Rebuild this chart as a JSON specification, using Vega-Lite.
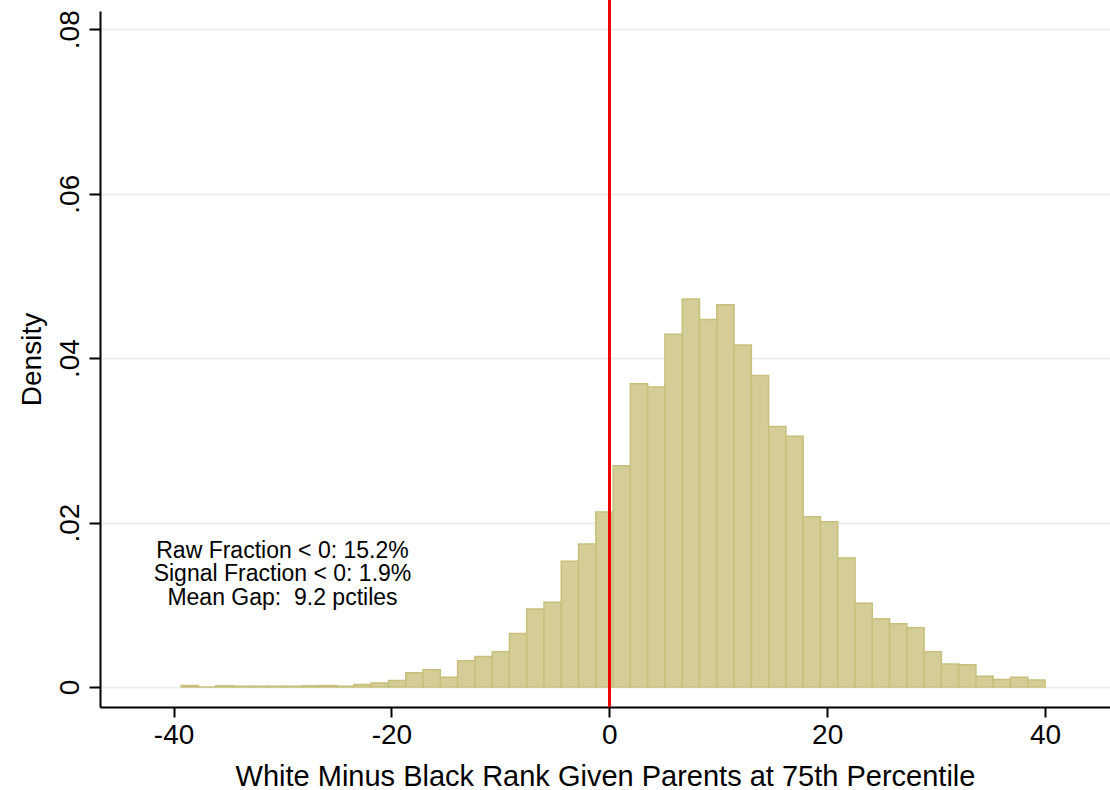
{
  "$schema": "https://vega.github.io/schema/vega-lite/v6.json",
  "width": 1010,
  "height": 696,
  "autosize": "none",
  "padding": {"left": 100, "top": 11, "right": 0, "bottom": 83},
  "background": "white",
  "config": {"view": {"stroke": null}, "font": "Liberation Sans"},
  "data": {"values": [
    {"bin_start": -39.3, "bin_end": -37.714, "density": 0.0002},
    {"bin_start": -37.714, "bin_end": -36.128, "density": 0},
    {"bin_start": -36.128, "bin_end": -34.542, "density": 0.00015},
    {"bin_start": -34.542, "bin_end": -32.956, "density": 0.0001},
    {"bin_start": -32.956, "bin_end": -31.37, "density": 0.0001},
    {"bin_start": -31.37, "bin_end": -29.784, "density": 0.0001},
    {"bin_start": -29.784, "bin_end": -28.198, "density": 0.0001},
    {"bin_start": -28.198, "bin_end": -26.612, "density": 0.00015},
    {"bin_start": -26.612, "bin_end": -25.026, "density": 0.0002},
    {"bin_start": -25.026, "bin_end": -23.44, "density": 0.0001},
    {"bin_start": -23.44, "bin_end": -21.854, "density": 0.0003},
    {"bin_start": -21.854, "bin_end": -20.268, "density": 0.0005},
    {"bin_start": -20.268, "bin_end": -18.682, "density": 0.0008},
    {"bin_start": -18.682, "bin_end": -17.096, "density": 0.00175},
    {"bin_start": -17.096, "bin_end": -15.51, "density": 0.0021},
    {"bin_start": -15.51, "bin_end": -13.924, "density": 0.0012},
    {"bin_start": -13.924, "bin_end": -12.338, "density": 0.0032},
    {"bin_start": -12.338, "bin_end": -10.752, "density": 0.0037},
    {"bin_start": -10.752, "bin_end": -9.166, "density": 0.0043},
    {"bin_start": -9.166, "bin_end": -7.58, "density": 0.0065},
    {"bin_start": -7.58, "bin_end": -5.994, "density": 0.0095},
    {"bin_start": -5.994, "bin_end": -4.408, "density": 0.0103},
    {"bin_start": -4.408, "bin_end": -2.822, "density": 0.0153},
    {"bin_start": -2.822, "bin_end": -1.236, "density": 0.0174},
    {"bin_start": -1.236, "bin_end": 0.35, "density": 0.0213},
    {"bin_start": 0.35, "bin_end": 1.936, "density": 0.0269},
    {"bin_start": 1.936, "bin_end": 3.522, "density": 0.0369},
    {"bin_start": 3.522, "bin_end": 5.108, "density": 0.0365},
    {"bin_start": 5.108, "bin_end": 6.694, "density": 0.0429},
    {"bin_start": 6.694, "bin_end": 8.28, "density": 0.0472},
    {"bin_start": 8.28, "bin_end": 9.866, "density": 0.0447},
    {"bin_start": 9.866, "bin_end": 11.452, "density": 0.0465},
    {"bin_start": 11.452, "bin_end": 13.038, "density": 0.0416},
    {"bin_start": 13.038, "bin_end": 14.624, "density": 0.0379},
    {"bin_start": 14.624, "bin_end": 16.21, "density": 0.0317},
    {"bin_start": 16.21, "bin_end": 17.796, "density": 0.0305},
    {"bin_start": 17.796, "bin_end": 19.382, "density": 0.0207},
    {"bin_start": 19.382, "bin_end": 20.968, "density": 0.0201},
    {"bin_start": 20.968, "bin_end": 22.554, "density": 0.0157},
    {"bin_start": 22.554, "bin_end": 24.14, "density": 0.0102},
    {"bin_start": 24.14, "bin_end": 25.726, "density": 0.0083},
    {"bin_start": 25.726, "bin_end": 27.312, "density": 0.0077},
    {"bin_start": 27.312, "bin_end": 28.898, "density": 0.0072},
    {"bin_start": 28.898, "bin_end": 30.484, "density": 0.0043},
    {"bin_start": 30.484, "bin_end": 32.07, "density": 0.0028},
    {"bin_start": 32.07, "bin_end": 33.656, "density": 0.0027},
    {"bin_start": 33.656, "bin_end": 35.242, "density": 0.0013},
    {"bin_start": 35.242, "bin_end": 36.828, "density": 0.0009},
    {"bin_start": 36.828, "bin_end": 38.414, "density": 0.0012},
    {"bin_start": 38.414, "bin_end": 40.0, "density": 0.00085}
  ]},
  "layer": [
    {
      "mark": {"type": "bar", "fill": "#d4cd97", "stroke": "#c8c07a", "strokeWidth": 1.5},
      "encoding": {
        "x": {
          "field": "bin_start", "type": "quantitative",
          "scale": {"domain": [-46.75, 45.96], "nice": false, "zero": false, "padding": 0},
          "axis": {
            "values": [-40, -20, 0, 20, 40],
            "labelExpr": "'' + datum.value",
            "grid": false,
            "domainColor": "black", "domainWidth": 2,
            "tickColor": "black", "tickWidth": 2, "tickSize": 10,
            "labelFontSize": 28, "labelColor": "black", "labelPadding": 4,
            "labelFont": "Liberation Sans",
            "title": "White Minus Black Rank Given Parents at 75th Percentile",
            "titleFontSize": 29, "titleFontWeight": "normal", "titleColor": "black",
            "titleFont": "Liberation Sans",
            "titleBaseline": "alphabetic", "titleY": 78
          }
        },
        "x2": {"field": "bin_end"},
        "y": {
          "field": "density", "type": "quantitative",
          "stack": null,
          "scale": {"domain": [-0.00243, 0.08222], "nice": false, "zero": false, "padding": 0},
          "axis": {
            "values": [0, 0.02, 0.04, 0.06, 0.08],
            "labelExpr": "datum.value == 0 ? '0' : replace(format(datum.value, '.2f'), '0.', '.')",
            "grid": true, "gridColor": "#e8eff2", "gridWidth": 2,
            "domainColor": "black", "domainWidth": 2,
            "tickColor": "black", "tickWidth": 2, "tickSize": 11,
            "labelFontSize": 28, "labelColor": "black", "labelAngle": -90,
            "labelAlign": "center", "labelBaseline": "alphabetic", "labelPadding": 11,
            "labelFont": "Liberation Sans",
            "title": "Density",
            "titleFontSize": 28, "titleFontWeight": "normal", "titleColor": "black",
            "titleFont": "Liberation Sans",
            "titleAngle": -90, "titleAlign": "center", "titleBaseline": "alphabetic",
            "titleX": -60, "titleY": 348
          }
        },
        "y2": {"datum": 0}
      }
    },
    {
      "mark": {"type": "rule", "color": "#f00000", "strokeWidth": 2.5},
      "encoding": {
        "x": {"datum": 0, "type": "quantitative"},
        "y": {"datum": 0.0837, "type": "quantitative"},
        "y2": {"datum": -0.00243}
      }
    },
    {
      "data": {"values": [
        {"label": ["Raw Fraction < 0: 15.2%", "Signal Fraction < 0: 1.9%", "Mean Gap:\u00a0 9.2 pctiles"], "gx": -30, "gy": 0.01655}
      ]},
      "mark": {"type": "text", "fontSize": 23, "lineHeight": 23.5, "align": "center", "baseline": "middle", "color": "black", "font": "Liberation Sans"},
      "encoding": {
        "x": {"field": "gx", "type": "quantitative"},
        "y": {"field": "gy", "type": "quantitative"},
        "text": {"field": "label"}
      }
    }
  ]
}
